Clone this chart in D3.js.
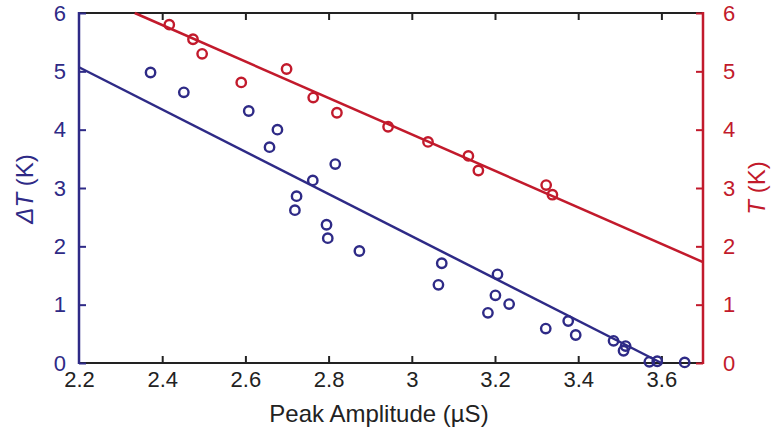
<!DOCTYPE html>
<html><head><meta charset="utf-8">
<script src="https://cdn.jsdelivr.net/npm/d3@7"></script>
<style>body{margin:0;background:#fff}svg{display:block}text{font-family:"Liberation Sans",Arial,sans-serif}</style>
</head><body><svg id="c" width="773" height="440"></svg>
<script>
const xTicks = [2.2, 2.4, 2.6, 2.8, 3, 3.2, 3.4, 3.6];
const yTicks = [0, 1, 2, 3, 4, 5, 6];
const blueX = [2.372,2.452,2.608,2.677,2.658,2.816,2.762,2.723,2.719,2.795,2.798,2.874,3.072,3.064,3.206,3.201,3.234,3.183,3.322,3.376,3.394,3.485,3.514,3.509,3.571,3.590,3.656];
const blueY = [4.98,4.64,4.32,4.00,3.70,3.41,3.13,2.86,2.62,2.37,2.14,1.92,1.71,1.34,1.52,1.16,1.01,0.86,0.59,0.72,0.48,0.38,0.29,0.21,0.02,0.03,0.01];
const redX = [2.417,2.474,2.496,2.590,2.699,2.763,2.820,2.943,3.039,3.136,3.160,3.323,3.338];
const redY = [5.80,5.55,5.30,4.81,5.04,4.55,4.29,4.05,3.79,3.55,3.30,3.05,2.885];
const blueFitX = [2.2, 3.6];
const blueFitY = [5.07, 0];
const redFitX = [2.334, 3.7];
const redFitY = [6, 1.73];

const BLUE = "#2e2a86", RED = "#c21a2c", BLACK = "#222";
const svg = d3.select("#c");
const L = 79, R = 703, T = 13, B = 363;
const x = d3.scaleLinear().domain([2.2, 3.7]).range([L, R]);
const yL = d3.scaleLinear().domain([0, 6]).range([B, T]);
const yR = d3.scaleLinear().domain([0, 6]).range([B, T]);

function styleAxis(g, color) {
  g.select(".domain").remove();
  g.selectAll(".tick line").attr("stroke", color).attr("stroke-width", 2);
  g.selectAll(".tick text").attr("fill", color).attr("font-size", 22)
    .attr("font-family", '"Liberation Sans",Arial,sans-serif');
}
// bottom
const gb = svg.append("g").attr("transform", `translate(0,${B})`)
  .call(d3.axisBottom(x).tickValues(xTicks).tickFormat(d3.format("~g")).tickSizeInner(-7).tickSizeOuter(0).tickPadding(8));
styleAxis(gb, BLACK);
gb.selectAll(".tick").filter(d => d === 2.2).select("line").remove();
// top
const gt = svg.append("g").attr("transform", `translate(0,${T})`)
  .call(d3.axisTop(x).tickValues(xTicks).tickFormat("").tickSizeInner(-7).tickSizeOuter(0));
styleAxis(gt, BLACK);
gt.selectAll(".tick").filter(d => d === 2.2).select("line").remove();
svg.append("line").attr("x1", L).attr("x2", R).attr("y1", B).attr("y2", B).attr("stroke", BLACK).attr("stroke-width", 2.2);
svg.append("line").attr("x1", L).attr("x2", R).attr("y1", T).attr("y2", T).attr("stroke", BLACK).attr("stroke-width", 2.2);
// left
const gl = svg.append("g").attr("transform", `translate(${L},0)`)
  .call(d3.axisLeft(yL).tickValues(yTicks).tickFormat(d3.format("d")).tickSizeInner(-7).tickSizeOuter(0).tickPadding(13));
styleAxis(gl, BLUE);
svg.append("line").attr("x1", L).attr("x2", L).attr("y1", T - 1).attr("y2", B + 1).attr("stroke", BLUE).attr("stroke-width", 2.5);
// right
const gr = svg.append("g").attr("transform", `translate(${R},0)`)
  .call(d3.axisRight(yR).tickValues(yTicks).tickFormat(d3.format("d")).tickSizeInner(-7).tickSizeOuter(0).tickPadding(20));
styleAxis(gr, RED);
svg.append("line").attr("x1", R).attr("x2", R).attr("y1", T - 1).attr("y2", B + 1).attr("stroke", RED).attr("stroke-width", 2.5);

// fits
const line = (ys) => d3.line().x(d => x(d[0])).y(d => ys(d[1]));
svg.append("path").datum(blueFitX.map((v, i) => [v, blueFitY[i]]))
  .attr("d", line(yL)).attr("stroke", BLUE).attr("stroke-width", 2.5).attr("fill", "none");
svg.append("path").datum(redFitX.map((v, i) => [v, redFitY[i]]))
  .attr("d", line(yR)).attr("stroke", RED).attr("stroke-width", 2.5).attr("fill", "none");

// points
svg.append("g").selectAll("circle").data(blueX.map((v, i) => [v, blueY[i]])).join("circle")
  .attr("cx", d => x(d[0])).attr("cy", d => yL(d[1])).attr("r", 4.7)
  .attr("fill", "none").attr("stroke", BLUE).attr("stroke-width", 2.4);
svg.append("g").selectAll("circle").data(redX.map((v, i) => [v, redY[i]])).join("circle")
  .attr("cx", d => x(d[0])).attr("cy", d => yR(d[1])).attr("r", 4.7)
  .attr("fill", "none").attr("stroke", RED).attr("stroke-width", 2.4);

// titles
svg.append("text").attr("x", 379).attr("y", 422).attr("text-anchor", "middle")
  .attr("font-size", 24).attr("fill", BLACK).text("Peak Amplitude (µS)");
const lt = svg.append("text").attr("transform", "translate(33,189) rotate(-90)").attr("text-anchor", "middle")
  .attr("font-size", 24).attr("fill", BLUE);
lt.append("tspan").attr("font-style", "italic").text("Δ");
lt.append("tspan").attr("font-style", "italic").text("T");
lt.append("tspan").text(" (K)");
const rt = svg.append("text").attr("transform", "translate(765,188) rotate(-90)").attr("text-anchor", "middle")
  .attr("font-size", 24).attr("fill", RED);
rt.append("tspan").attr("font-style", "italic").text("T");
rt.append("tspan").text(" (K)");
</script></body></html>
